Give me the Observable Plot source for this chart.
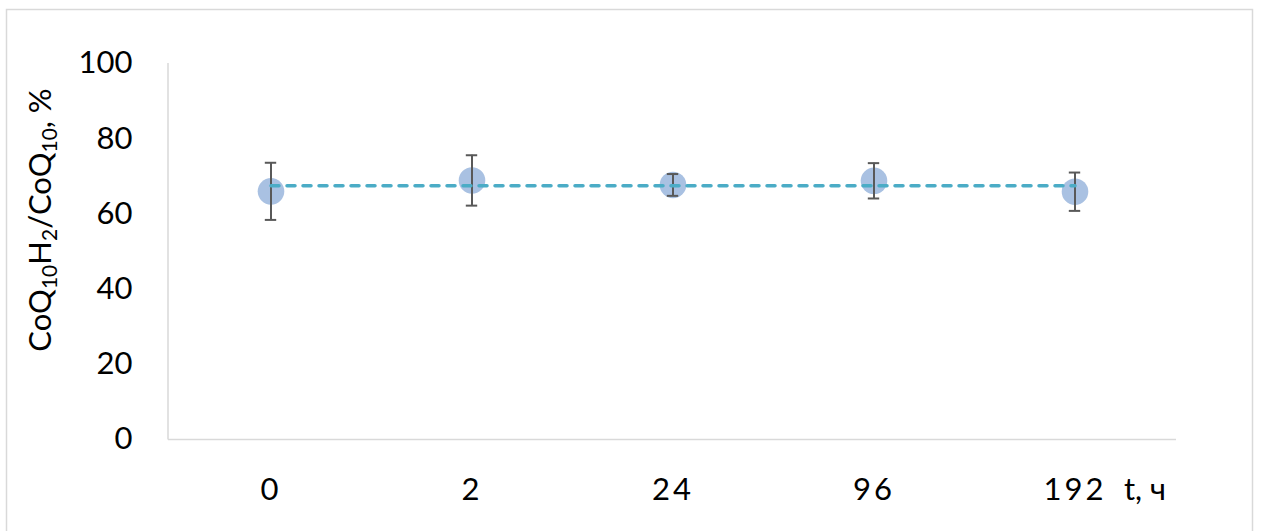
<!DOCTYPE html>
<html>
<head>
<meta charset="utf-8">
<script src="https://cdn.jsdelivr.net/npm/d3@7"></script>
<script src="https://cdn.jsdelivr.net/npm/@observablehq/plot@0.6"></script>
<style>
  html, body { margin: 0; padding: 0; background: #fff; overflow: hidden; }
  #chart svg { display: block; }
</style>
</head>
<body>
<div id="chart"></div>
<script>
// Time points (hours) and the reduced/total CoQ10 ratio, % (mean ± error)
const times = ["0", "2", "24", "96", "192"];
const ratio = [66.0, 68.9, 67.7, 68.8, 65.9];
const errors = [7.6, 6.7, 2.9, 4.7, 5.1];
const yTicks = [0, 20, 40, 60, 80, 100];

const rows = times.map((t, i) => ({t, v: ratio[i], e: errors[i]}));
const mean = d3.mean(ratio);
const meanRows = times.map(t => ({t, v: mean}));

const W = 1264, H = 531;
const mL = 168, mR = 88, mT = 63, mB = 92;
const band = (W - mL - mR) / times.length;
const capHalf = 6;

const font = "Lato, 'Open Sans', sans-serif";

const chart = Plot.plot({
  width: W,
  height: H,
  marginLeft: mL,
  marginRight: mR,
  marginTop: mT,
  marginBottom: mB,
  style: {fontFamily: font, fontSize: "31px", color: "#000", background: "#fff"},
  x: {type: "band", domain: times, paddingInner: 0, paddingOuter: 0, label: null},
  y: {domain: [0, 100], label: null},
  marks: [
    Plot.axisY({ticks: yTicks, tickSize: 0, tickPadding: 36, label: null, fontSize: 31}),
    Plot.axisX({tickSize: 0, tickPadding: 38, label: null, fontSize: 31}),
    Plot.ruleY([0], {stroke: "#d9d9d9", strokeWidth: 1.5}),
    Plot.dot(rows, {x: "t", y: "v", r: 13.3, fill: "#a9c1e2", stroke: "none"}),
    Plot.ruleX(rows, {x: "t", y1: d => d.v - d.e, y2: d => d.v + d.e, stroke: "#595959", strokeWidth: 2}),
    Plot.tickY(rows, {x: "t", y: d => d.v + d.e, stroke: "#595959", strokeWidth: 2,
      insetLeft: band / 2 - capHalf, insetRight: band / 2 - capHalf}),
    Plot.tickY(rows, {x: "t", y: d => d.v - d.e, stroke: "#595959", strokeWidth: 2,
      insetLeft: band / 2 - capHalf, insetRight: band / 2 - capHalf}),
    Plot.line(meanRows, {x: "t", y: "v", stroke: "#4bacc6", strokeWidth: 3.5,
      strokeDasharray: "8,8", strokeLinecap: "round"})
  ]
});

document.getElementById("chart").appendChild(chart);

const svg = d3.select(chart);
// wide-tracked category labels on the time axis
svg.selectAll("g[aria-label='x-axis tick label'] text").style("letter-spacing", "3px");

// vertical axis line
svg.append("line")
  .attr("x1", mL).attr("x2", mL)
  .attr("y1", mT).attr("y2", H - mB + 0.5)
  .attr("stroke", "#d9d9d9").attr("stroke-width", 1.5);

// outer chart border (left, top, right)
svg.append("rect")
  .attr("x", 6.5).attr("y", 9.5)
  .attr("width", 1246).attr("height", 600)
  .attr("fill", "none").attr("stroke", "#d9d9d9").attr("stroke-width", 1.5);

// x-axis title
svg.append("text")
  .attr("x", 1124).attr("y", 500)
  .attr("text-anchor", "start")
  .attr("font-family", font).attr("font-size", 31)
  .attr("fill", "#000")
  .text("t, ч");

// y-axis title with subscripts
const yt = svg.append("text")
  .attr("transform", "translate(51,220) rotate(-90)")
  .attr("text-anchor", "middle")
  .attr("font-family", font).attr("font-size", 31)
  .attr("fill", "#000");
const parts = [
  ["CoQ", false], ["10", true], ["H", false], ["2", true],
  ["/CoQ", false], ["10", true], [", %", false]
];
for (const [s, sub] of parts) {
  const ts = yt.append("tspan").text(s);
  if (sub) ts.attr("font-size", 21).attr("baseline-shift", "-28%");
}
</script>
</body>
</html>
